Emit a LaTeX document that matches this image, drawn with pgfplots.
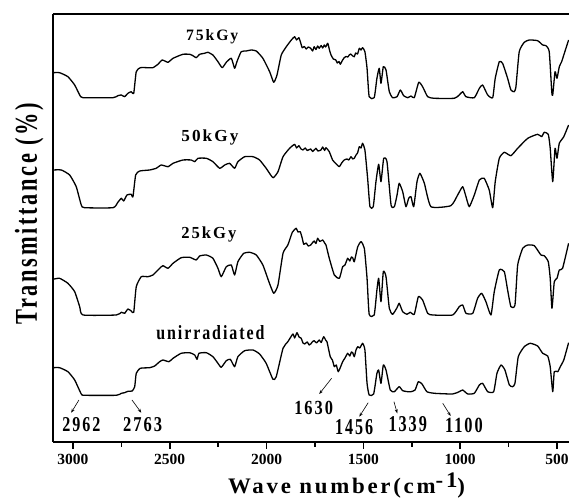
\documentclass[border=0pt]{standalone}
\usepackage{fontspec}
\setmainfont{Liberation Serif}
\usepackage{graphicx}
\usepackage{pgfplots}
\pgfplotsset{compat=1.18}
\usetikzlibrary{arrows.meta}

% stretched, letter-spaced bold labels as in the scanned figure
\newcommand{\lab}[3]{\resizebox{#1}{#2}{\bfseries\addfontfeatures{LetterSpace=12}#3}}
\pgfplotsset{spec/.style={black, line width=1.3pt, line join=round, mark=none, smooth, tension=0.3}}

\begin{document}
\begin{tikzpicture}
\begin{axis}[
  name=ax,
  scale only axis, width=516pt, height=428pt,
  x dir=reverse, xmin=438, xmax=3103,
  ymin=0, ymax=428,
  axis x line*=bottom, axis y line*=left,
  axis line style={line width=2.2pt},
  xtick={500,1000,1500,2000,2500,3000},
  minor x tick num=1,
  ytick=\empty,
  tick align=outside,
  major tick length=7pt, minor tick length=5pt,
  tick style={line width=1.6pt, black},
  /pgf/number format/assume math mode=true,
  /pgf/number format/1000 sep={},
  xticklabel style={font=\fontsize{15.5}{15.5}\selectfont\bfseries, yshift=-2pt},
  clip=false,
]
\draw[line width=2.2pt] (rel axis cs:0,1) -- (rel axis cs:1,1);

% 75kGy
\addplot[spec] table {
3103 369.3
3069 369.3
3026 365.3
2991 357
2965 347
2948 344.3
2793 344.3
2768 346.3
2750 347
2733 345.3
2716 348.7
2699 350.3
2686 348.7
2673 370.3
2652 374.3
2613 374.3
2587 374.3
2561 377.7
2539 382
2509 379.7
2483 383.7
2432 387.7
2397 387.7
2380 386.3
2363 384.3
2346 387.7
2320 388.7
2303 389.7
2277 387
2251 380.3
2229 374.3
2208 379.7
2182 383.7
2165 373.7
2153 380.3
2131 390.3
2105 391
2079 392
2053 391
2019 383.7
1984 370.3
1963 359.7
1946 367
1924 387
1898 395.3
1872 402
1855 405.3
1845 402
1833 404.3
1825 400
1816 394.3
1805 395.5
1795 393
1785 395
1772 393.7
1762 391
1754 395.3
1745 392.5
1736 396
1728 393.7
1718 396.5
1710 394
1702 397
1695 395
1684 398.7
1675 392
1667 387
1655 383
1642 382
1635 379
1626 380.5
1619 377.7
1610 381
1599 384.3
1590 385.5
1580 385
1573 387
1565 388
1555 386
1547 385.3
1540 389
1530 388
1521 393.7
1512 392
1504 394.3
1492 390.3
1481 373.7
1470 345.3
1444 344.3
1430 363.7
1418 373.7
1409 358.7
1397 375.3
1383 372
1366 350.3
1349 344.3
1326 345.3
1309 352
1292 346.3
1271 344.3
1254 346
1237 344.3
1214 359.7
1194 355.3
1168 345.3
1134 343.7
1030 343.7
1005 347
987 350.3
970 345.3
927 344.3
901 353.7
884 357
858 347
832 344.3
819 363.7
798 380.3
781 378.7
755 363.7
738 352
721 350.3
712 355.3
695 390.3
669 399.7
643 402
600 401.3
574 397
557 396.3
540 390.3
527 350.3
522 347
510 370.3
500 363.7
488 375.3
476 380.3
462 388.7
440 402
};

% 50kGy
\addplot[spec] table {
3103 272
3060 272
3017 267
2983 255.3
2957 237
2940 234.3
2793 234.3
2768 239.7
2750 243.7
2738 241
2721 247
2699 247.7
2690 245.3
2676 267
2655 271
2604 272
2570 273.7
2544 277
2509 275.3
2483 278.7
2432 282
2389 282
2371 280.3
2354 283.7
2311 283.7
2277 280.3
2242 273.7
2216 277
2191 278.7
2165 273.7
2148 280.3
2113 285.3
2070 285.3
2036 282
2002 273.7
1967 264.3
1941 270.3
1915 285.3
1881 293.7
1855 297.7
1845 294
1833 296.3
1822 293
1812 292
1800 294
1790 291.5
1772 293
1762 290.5
1745 293.7
1735 291
1719 292
1710 295
1700 291.5
1693 294.3
1676 290.3
1659 282
1645 279
1635 277
1624 275.3
1612 279
1599 282
1585 283
1575 282
1564 285.3
1555 283
1547 283.7
1538 287
1530 289
1521 295.3
1512 294
1504 298.7
1492 292
1478 263.7
1466 235.3
1449 235.3
1435 260.3
1421 277.7
1409 260.3
1395 283.7
1378 280.3
1357 237
1340 235.3
1326 247
1315 258.7
1297 250.3
1280 235.3
1266 243.7
1254 245.3
1240 235.3
1223 260.3
1208 268.7
1185 258.7
1151 235.3
1048 236.3
1013 247
987 255.3
970 245.3
953 235.3
927 247
901 262
876 263.7
850 252
832 234.3
819 260.3
798 283.7
772 289.7
738 286.3
703 293.7
651 303.7
600 307.7
579 305.3
566 309.7
545 307.7
535 293.7
522 260.3
510 293.7
500 283.7
488 298.7
465 305.3
440 317
};

% 25kGy
\addplot[spec] table {
3103 162.7
3069 163.7
3026 158.7
2991 150.3
2965 135.3
2948 127
2776 127
2750 129.7
2733 128.7
2716 133
2699 131
2686 129.7
2673 155.3
2647 165.3
2613 165.3
2587 167
2552 173.7
2535 176.3
2509 173.7
2483 178.7
2441 184.3
2397 184.7
2363 182
2346 186
2311 187
2277 183.7
2251 173.7
2234 165.3
2208 175.3
2182 177
2165 167
2148 180.3
2118 188.7
2087 189.7
2053 187
2019 177
1988 160.3
1963 148.7
1941 157
1915 188.7
1890 197
1867 209.7
1847 213.7
1838 210
1826 210.3
1816 204
1808 197.7
1795 199
1785 196
1772 197
1762 199.5
1754 201
1745 198.5
1736 203.7
1725 200.5
1710 202
1700 199
1693 197
1676 183.7
1650 167
1624 163.7
1607 175.3
1595 177
1581 183.7
1570 181
1562 185
1555 184.3
1547 180.3
1529 195.3
1512 200.3
1495 193.7
1481 163.7
1470 127.7
1444 127
1430 152
1421 163.7
1409 140.3
1397 170.3
1383 165.3
1366 133.7
1349 127.7
1326 134.3
1315 138.7
1297 130.3
1275 127.7
1258 129.7
1237 127.7
1216 145.3
1194 142
1168 128.7
1142 127
1039 127
1005 135.3
987 137
970 128.7
935 128.7
910 143.7
889 148.7
867 140.3
841 127
824 150.3
798 172
772 170.3
755 152
738 135.3
717 137
703 177
677 193.7
651 197
617 196.3
583 187
566 186.3
545 180.3
535 163.7
526 133.7
514 160.3
500 163.7
488 172
471 173.7
440 198.7
};

% unirradiated
\addplot[spec] table {
3103 74.3
3069 74.3
3026 70.3
2991 62
2957 48
2940 46.7
2776 46.7
2750 48.7
2733 49.3
2716 50.7
2694 51
2681 55.3
2673 68.7
2652 73.7
2604 74.3
2578 76
2552 80.3
2535 82
2504 80.3
2483 83.7
2441 88.7
2397 89.3
2371 87
2359 82.7
2349 88.7
2311 89.3
2277 85.3
2251 78.7
2234 74.7
2208 81.3
2187 82.7
2165 75.3
2148 85.3
2113 91.3
2070 92
2036 88
2002 78.7
1967 62.7
1950 65.3
1915 93.7
1890 100.3
1864 108
1855 104
1843 109.3
1832 105
1821 103.7
1812 99
1803 98
1790 100
1780 97
1772 98
1762 100.5
1754 101.3
1742 99
1728 102
1718 99.5
1705 105.3
1695 102
1688 100.3
1671 85.3
1660 82
1650 75.3
1640 77
1630 70.3
1620 74
1607 80.3
1595 84
1581 88.7
1570 86
1562 90
1555 89.3
1547 85.3
1538 92
1529 95.3
1518 94
1504 98.7
1492 92
1481 58.7
1470 47
1447 48
1430 68.7
1421 72
1409 58.7
1397 77
1383 72
1361 52
1340 50.3
1315 55.3
1297 51.3
1271 50.3
1254 50.3
1233 52
1216 60.3
1197 58
1172 50.3
1134 48.7
1039 48
1005 50.3
987 52
961 48
927 48.7
901 57
884 58.7
858 50.3
827 50.3
810 68.7
789 77
769 72
746 57
729 55.3
717 58.7
700 85.3
669 95.3
638 98.7
600 96
574 88.7
548 86
535 75.3
522 50.3
514 70.3
496 70.3
483 75.3
465 82
440 99.3
};

% curve labels
\node[anchor=base west, inner sep=0] at (axis cs:2416,401.3) {\lab{52pt}{11pt}{75kGy}};
\node[anchor=base west, inner sep=0] at (axis cs:2441,300.3) {\lab{57pt}{11.7pt}{50kGy}};
\node[anchor=base west, inner sep=0] at (axis cs:2441,203.7) {\lab{55pt}{11.7pt}{25kGy}};
\node[anchor=base west, inner sep=0] at (axis cs:2570,102) {\lab{108pt}{14pt}{unirradiated}};

% band annotations
\node[anchor=base west, inner sep=0] at (axis cs:3055,10.3) {\lab{38pt}{14pt}{2962}};
\node[anchor=base west, inner sep=0] at (axis cs:2742,10.3) {\lab{39pt}{14pt}{2763}};
\node[anchor=base west, inner sep=0] at (axis cs:1858,27) {\lab{38.7pt}{13.3pt}{1630}};
\node[anchor=base west, inner sep=0] at (axis cs:1647,7) {\lab{38pt}{15pt}{1456}};
\node[anchor=base west, inner sep=0] at (axis cs:1371,10.3) {\lab{38.4pt}{15pt}{1339}};
\node[anchor=base west, inner sep=0] at (axis cs:1079,9.3) {\lab{37.7pt}{14.4pt}{1100}};

\begin{scope}[line width=0.6pt, -{Stealth[length=4pt,width=3pt]}]
\draw (axis cs:2969,42) -- (axis cs:3009,29.3);
\draw (axis cs:2695,42) -- (axis cs:2647,29.3);
\draw (axis cs:1664,63.7) -- (axis cs:1728,48);
\draw (axis cs:1475,39.3) -- (axis cs:1521,25.3);
\draw (axis cs:1342,40.3) -- (axis cs:1325,28.7);
\draw (axis cs:1090,38.7) -- (axis cs:1049,26);
\end{scope}

% axis titles
\node[rotate=90, anchor=base, inner sep=0] at (rel axis cs:-0.031,0.533)
  {\lab{222pt}{22pt}{Transmittance (\%)}};
\node[anchor=south, inner sep=0] at (rel axis cs:0.569,-0.1325)
  {\resizebox*{237pt}{26pt}{\bfseries\addfontfeatures{LetterSpace=12}Wave number(cm\raisebox{0.3em}{\fontsize{10}{10}\selectfont -1})}};
\end{axis}
\pgfresetboundingbox
\path[use as bounding box] ([xshift=-53pt,yshift=-58pt]ax.south west) rectangle ([yshift=14pt]ax.north east);
\end{tikzpicture}
\end{document}
